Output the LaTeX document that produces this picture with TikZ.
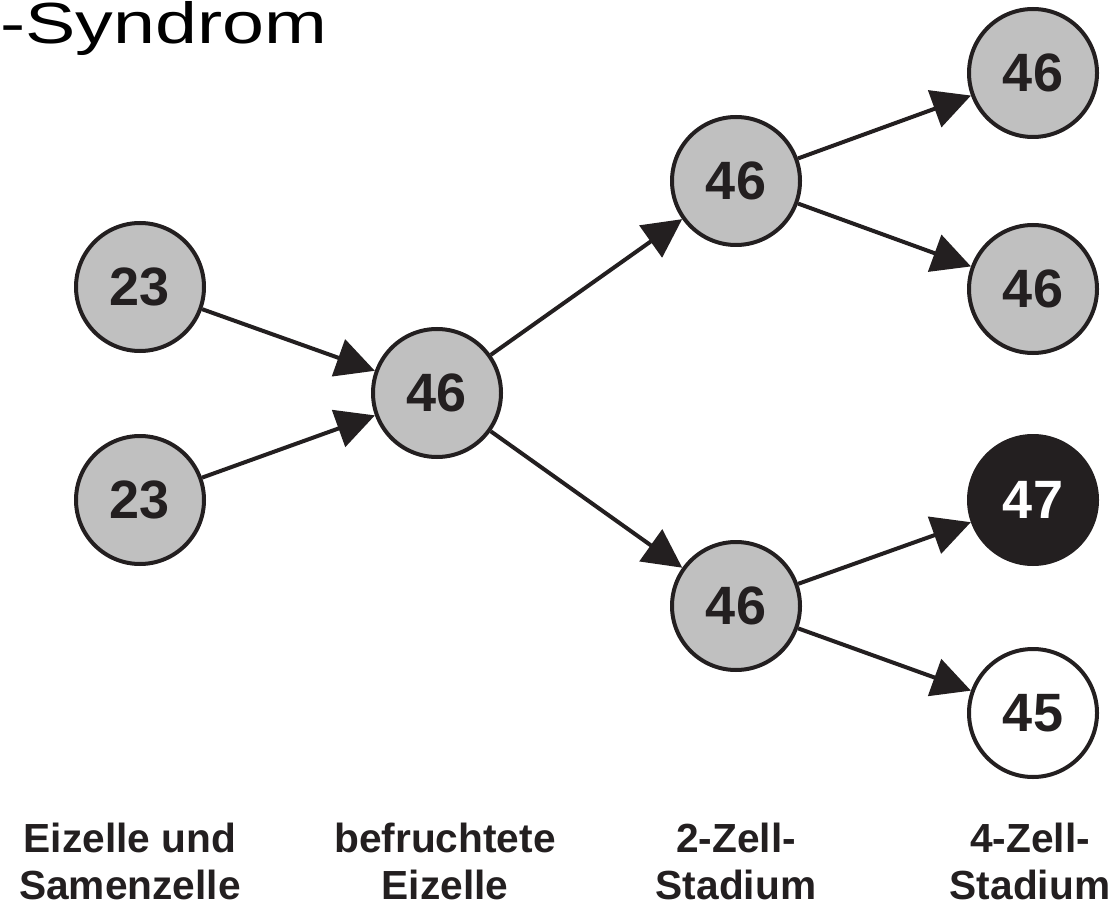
\documentclass[tikz,border=0pt]{standalone}
\usepackage{graphicx}
\usepackage{fontspec}
\setmainfont{Liberation Sans}
\usetikzlibrary{arrows.meta}
\definecolor{cellgray}{RGB}{192,192,192}
\definecolor{ink}{RGB}{35,31,32}
\tikzset{
  cell/.style={circle, draw=ink, line width=3pt, minimum size=96pt, inner sep=0pt,
    font=\fontsize{40.5}{45}\selectfont\bfseries, text=ink},
  normal/.style={cell, fill=cellgray},
  trisomy/.style={cell, fill=ink, text=white},
  monosomy/.style={cell, fill=white},
  arr/.style={draw=ink, line width=3pt, -{Triangle[length=29pt, width=29pt]}, ink},
  stage/.style={align=center, anchor=base, inner sep=0pt, text=ink, text depth=0pt,
    font=\fontsize{30.5}{35.25}\selectfont\bfseries},
}
\begin{document}
\begin{tikzpicture}[x=0.75pt, y=-0.75pt]
\useasboundingbox (0,0) rectangle (1120,905);
\node[anchor=base west, inner sep=0pt, font=\fontsize{43.5}{50}\selectfont] (title) at (0,44) {\scalebox{1.3}[1]{-Syndrom}};

\node[normal] (e1) at (140,287) {23};
\node[normal] (e2) at (140,500) {23};
\node[normal] (z) at (437,393) {46};
\node[normal] (t1) at (736,181) {46};
\node[normal] (t2) at (736,606) {46};
\node[normal] (f1) at (1033,73) {46};
\node[normal] (f2) at (1033,289) {46};
\node[trisomy] (f3) at (1033,500) {47};
\node[monosomy] (f4) at (1033,713) {45};

\draw[arr] (e1) -- (z);
\draw[arr] (e2) -- (z);
\draw[arr] (z) -- (t1);
\draw[arr] (z) -- (t2);
\draw[arr] (t1) -- (f1);
\draw[arr] (t1) -- (f2);
\draw[arr] (t2) -- (f3);
\draw[arr] (t2) -- (f4);

\node[stage] (l1) at (130,899) {Eizelle und\\Samenzelle};
\node[stage] (l2) at (445,899) {befruchtete\\Eizelle};
\node[stage] (l3) at (736,899) {2-Zell-\\Stadium};
\node[stage] (l4) at (1030,899) {4-Zell-\\Stadium};
\end{tikzpicture}
\end{document}
